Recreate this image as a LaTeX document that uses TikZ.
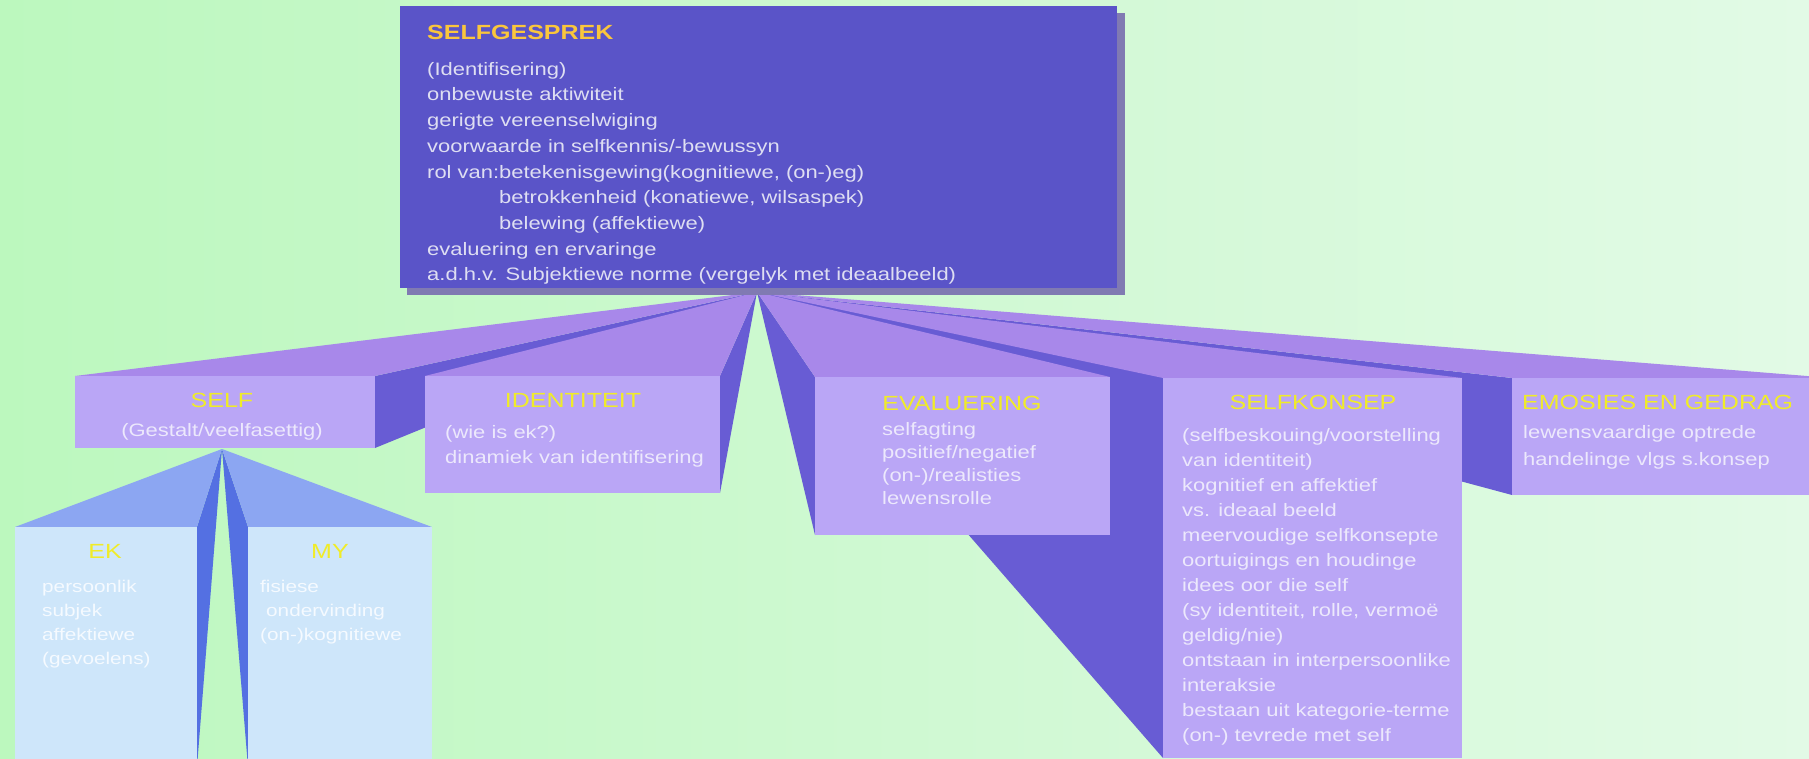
\documentclass[tikz,border=0pt]{standalone}
\usepackage{fontspec}
\setmainfont{Liberation Sans}[FakeStretch=1.22]
\definecolor{bgL}{RGB}{188,248,190}
\definecolor{bgR}{RGB}{226,250,230}
\definecolor{mainbox}{RGB}{90,84,200}
\definecolor{mainshadow}{RGB}{128,122,178}
\definecolor{maintext}{RGB}{222,222,242}
\definecolor{maintitle}{RGB}{250,198,60}
\definecolor{pfront}{RGB}{186,166,246}
\definecolor{ptop}{RGB}{168,136,234}
\definecolor{pside}{RGB}{104,92,212}
\definecolor{ctitle}{RGB}{240,236,40}
\definecolor{ctext}{RGB}{236,232,252}
\definecolor{bfront}{RGB}{206,230,250}
\definecolor{btop}{RGB}{140,166,242}
\definecolor{bside}{RGB}{84,112,226}
\definecolor{btext}{RGB}{245,250,255}
\pgfdeclarelayer{bg}
\pgfdeclarelayer{faces}
\pgfsetlayers{bg,faces,main}
\begin{document}
\begin{tikzpicture}[x=1pt,y=-1pt,
  box/.style={rectangle,inner sep=0pt,outer sep=0pt,anchor=north west},
  pbox/.style={box,fill=pfront},
  bbox/.style={box,fill=bfront},
  body/.style={inner sep=0pt,anchor=north west,align=left,text=ctext,font=\fontsize{18}{25}\selectfont},
  btxt/.style={body,text=btext,font=\fontsize{17}{24}\selectfont},
  ttl/.style={inner sep=0pt,text=ctitle,font=\fontsize{20.5}{24}\selectfont},
  pside/.style={fill=pside},
  ptop/.style={fill=ptop},
  bside/.style={fill=bside},
  btop/.style={fill=btop}]
\useasboundingbox (0,0) rectangle (1809,759);
\clip (0,0) rectangle (1809,759);
\begin{pgfonlayer}{bg}
\shade[left color=bgL,right color=bgR] (0,0) rectangle (1809,759);
\end{pgfonlayer}

% main box
\fill[mainshadow] (407,13) rectangle (1125,295);
\node[box,fill=mainbox,minimum width=717pt,minimum height=282pt] (main) at (400,6) {};
\node[inner sep=0pt,anchor=north west,text=maintitle,font=\fontsize{20.5}{24}\selectfont\bfseries] (maint) at (427,25) {SELFGESPREK};
\node[body,text=maintext,font=\fontsize{18}{25.7}\selectfont] (mainb) at (427,62) {(Identifisering)\\
onbewuste aktiwiteit\\
gerigte vereenselwiging\\
voorwaarde in selfkennis/-bewussyn\\
rol van:betekenisgewing(kognitiewe, (on-)eg)\\
\phantom{rol van:}betrokkenheid (konatiewe, wilsaspek)\\
\phantom{rol van:}belewing (affektiewe)\\
evaluering en ervaringe\\
a.d.h.v. Subjektiewe norme (vergelyk met ideaalbeeld)};
\coordinate (A) at (757,292);

% child boxes
\node[pbox,minimum width=300pt,minimum height=72pt] (self) at (75,376) {};
\node[pbox,minimum width=295pt,minimum height=117pt] (ident) at (425,376) {};
\node[pbox,minimum width=295pt,minimum height=158pt] (eval) at (815,377) {};
\node[pbox,minimum width=299pt,minimum height=380pt] (konsep) at (1163,378) {};
\node[pbox,minimum width=320pt,minimum height=117pt] (emo) at (1512,378) {};

\begin{pgfonlayer}{faces}
\fill[pside] (A) -- (konsep.north west) -- (konsep.south west) -- cycle;
\fill[pside] (A) -- (emo.north west) -- (emo.south west) -- cycle;
\fill[pside] (A) -- (eval.north west) -- (eval.south west) -- cycle;
\fill[pside] (A) -- (ident.north east) -- (ident.south east) -- cycle;
\fill[pside] (A) -- (self.north east) -- (self.south east) -- cycle;
\fill[ptop] (A) -- (self.north west) -- (self.north east) -- cycle;
\fill[ptop] (A) -- (ident.north west) -- (ident.north east) -- cycle;
\fill[ptop] (A) -- (eval.north west) -- (eval.north east) -- cycle;
\fill[ptop] (A) -- (konsep.north west) -- (konsep.north east) -- cycle;
\fill[ptop] (A) -- (emo.north west) -- (emo.north east) -- cycle;
\end{pgfonlayer}

% SELF sub boxes
\coordinate (B) at (222,449);
\node[bbox,minimum width=182pt,minimum height=240pt] (ek) at (15,527) {};
\node[bbox,minimum width=184pt,minimum height=240pt] (my) at (248,527) {};
\begin{pgfonlayer}{faces}
\fill[bside] (B) -- (ek.north east) -- (ek.south east) -- cycle;
\fill[bside] (B) -- (my.north west) -- (my.south west) -- cycle;
\fill[btop] (B) -- (ek.north west) -- (ek.north east) -- cycle;
\fill[btop] (B) -- (my.north west) -- (my.north east) -- cycle;
\end{pgfonlayer}

% texts
\node[ttl] (selft) at (222,400) {SELF};
\node[inner sep=0pt,text=ctext,font=\fontsize{18}{25}\selectfont] (selfb) at (222,432) {(Gestalt/veelfasettig)};

\node[ttl] (identt) at (573,400) {IDENTITEIT};
\node[body] (identb) at (445,425) {(wie is ek?)\\dinamiek van identifisering};

\node[ttl] (evalt) at (962,403) {EVALUERING};
\node[body,font=\fontsize{18}{23}\selectfont] (evalb) at (882,422) {selfagting\\positief/negatief\\(on-)/realisties\\lewensrolle};

\node[ttl] (konsept) at (1313,402) {SELFKONSEP};
\node[body] (konsepb) at (1182,428) {(selfbeskouing/voorstelling\\
van identiteit)\\
kognitief en affektief\\
vs. ideaal beeld\\
meervoudige selfkonsepte\\
oortuigings en houdinge\\
idees oor die self\\
(sy identiteit, rolle, vermoë\\
geldig/nie)\\
ontstaan in interpersoonlike\\
interaksie\\
bestaan uit kategorie-terme\\
(on-) tevrede met self};

\node[ttl,anchor=west] (emot) at (1522,402) {EMOSIES EN GEDRAG};
\node[body,font=\fontsize{18}{27}\selectfont] (emob) at (1523,425) {lewensvaardige optrede\\handelinge vlgs s.konsep};

\node[ttl] (ekt) at (105,551) {EK};
\node[btxt] (ekb) at (42,580) {persoonlik\\subjek\\affektiewe\\(gevoelens)};
\node[ttl] (myt) at (330,551) {MY};
\node[btxt] (myb) at (260,580) {fisiese\\\hspace*{6pt}ondervinding\\(on-)kognitiewe};
\end{tikzpicture}
\end{document}
